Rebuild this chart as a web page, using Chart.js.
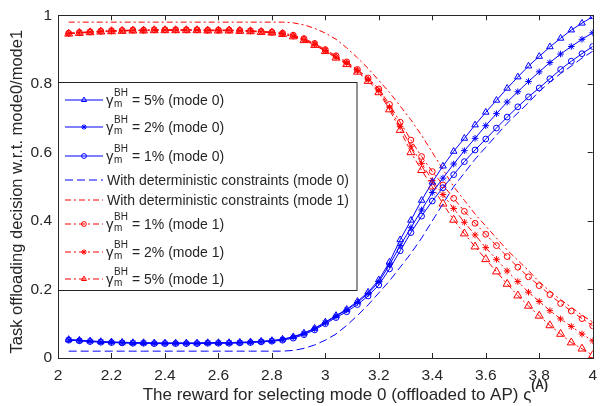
<!DOCTYPE html>
<html>
<head>
<meta charset="utf-8">
<script src="https://cdn.jsdelivr.net/npm/chart.js@4.4.0/dist/chart.umd.min.js"></script>
<style>
html, body { margin: 0; padding: 0; background: #fff; }
#wrap { width: 605px; height: 406px; }
</style>
</head>
<body>
<div id="wrap"><canvas id="chart" width="605" height="406"></canvas></div>
<script>
// reward values on the x axis
const rewardX = [2.04,2.08,2.12,2.16,2.20,2.24,2.28,2.32,2.36,2.40,
                 2.44,2.48,2.52,2.56,2.60,2.64,2.68,2.72,2.76,2.80,
                 2.84,2.88,2.92,2.96,3.00,3.04,3.08,3.12,3.16,3.20,
                 3.24,3.28,3.32,3.36,3.40,3.44,3.48,3.52,3.56,3.60,
                 3.64,3.68,3.72,3.76,3.80,3.84,3.88,3.92,3.96,4.00];

// mode 0 (blue)
const mode0Gamma5 = [0.054,0.052,0.050,0.048,0.047,0.046,0.045,0.045,0.044,0.044,
                     0.044,0.044,0.044,0.045,0.045,0.045,0.046,0.047,0.049,0.051,
                     0.055,0.062,0.073,0.087,0.105,0.124,0.142,0.165,0.192,0.228,
                     0.280,0.345,0.402,0.460,0.513,0.560,0.603,0.641,0.680,0.717,
                     0.752,0.787,0.820,0.852,0.880,0.908,0.933,0.957,0.977,0.996];
const mode0Gamma2 = [0.053,0.051,0.049,0.047,0.046,0.045,0.044,0.044,0.043,0.043,
                     0.043,0.043,0.043,0.044,0.044,0.044,0.045,0.046,0.048,0.050,
                     0.054,0.061,0.071,0.085,0.103,0.122,0.140,0.162,0.188,0.222,
                     0.272,0.328,0.380,0.432,0.483,0.525,0.566,0.605,0.641,0.678,
                     0.713,0.747,0.777,0.807,0.835,0.862,0.887,0.909,0.930,0.949];
const mode0Gamma1 = [0.052,0.050,0.048,0.046,0.045,0.044,0.043,0.043,0.042,0.042,
                     0.042,0.042,0.042,0.043,0.043,0.043,0.044,0.045,0.047,0.049,
                     0.052,0.058,0.068,0.082,0.100,0.118,0.135,0.156,0.181,0.213,
                     0.260,0.313,0.366,0.414,0.458,0.497,0.535,0.573,0.607,0.639,
                     0.671,0.703,0.733,0.762,0.788,0.815,0.842,0.866,0.888,0.909];
const mode0Determ = [0.020,0.020,0.020,0.020,0.020,0.020,0.020,0.020,0.020,0.020,
                     0.020,0.020,0.020,0.020,0.020,0.020,0.020,0.020,0.020,0.020,
                     0.020,0.022,0.028,0.038,0.052,0.070,0.095,0.124,0.155,0.190,
                     0.225,0.265,0.305,0.350,0.400,0.450,0.500,0.540,0.580,0.615,
                     0.650,0.685,0.715,0.745,0.778,0.805,0.830,0.852,0.875,0.895];

// mode 1 (red)
const mode1Determ = [0.980,0.980,0.980,0.980,0.980,0.980,0.980,0.980,0.980,0.980,
                     0.980,0.980,0.980,0.980,0.980,0.980,0.980,0.980,0.980,0.980,
                     0.980,0.978,0.972,0.962,0.948,0.930,0.905,0.876,0.845,0.810,
                     0.775,0.735,0.695,0.650,0.600,0.550,0.500,0.460,0.420,0.385,
                     0.350,0.315,0.285,0.255,0.222,0.195,0.170,0.148,0.125,0.105];
const mode1Gamma1 = [0.948,0.950,0.952,0.954,0.955,0.956,0.957,0.957,0.958,0.958,
                     0.958,0.958,0.958,0.957,0.957,0.957,0.956,0.955,0.953,0.951,
                     0.948,0.942,0.932,0.918,0.900,0.882,0.864,0.842,0.817,0.785,
                     0.740,0.688,0.636,0.588,0.544,0.505,0.466,0.428,0.393,0.361,
                     0.328,0.296,0.265,0.237,0.211,0.185,0.159,0.137,0.115,0.094];
const mode1Gamma2 = [0.947,0.949,0.951,0.953,0.954,0.955,0.956,0.956,0.957,0.957,
                     0.957,0.957,0.957,0.956,0.956,0.956,0.955,0.954,0.952,0.950,
                     0.946,0.939,0.929,0.915,0.897,0.878,0.860,0.838,0.812,0.780,
                     0.732,0.675,0.618,0.568,0.518,0.477,0.436,0.396,0.359,0.322,
                     0.288,0.254,0.223,0.192,0.165,0.138,0.114,0.092,0.070,0.050];
const mode1Gamma5 = [0.946,0.948,0.950,0.952,0.953,0.954,0.955,0.955,0.956,0.956,
                     0.956,0.956,0.956,0.955,0.955,0.955,0.954,0.953,0.951,0.949,
                     0.945,0.938,0.927,0.913,0.895,0.876,0.857,0.835,0.808,0.775,
                     0.725,0.665,0.600,0.548,0.500,0.450,0.403,0.363,0.325,0.288,
                     0.252,0.216,0.182,0.152,0.123,0.095,0.070,0.045,0.027,0.008];

const xTickValues = [2, 2.2, 2.4, 2.6, 2.8, 3, 3.2, 3.4, 3.6, 3.8, 4];
const yTickValues = [0, 0.2, 0.4, 0.6, 0.8, 1];

// legend texts: gamma entries are drawn as γ_m^BH + rest
const legendLabels = [
    { gamma: true, text: '= 5% (mode 0)' },
    { gamma: true, text: '= 2% (mode 0)' },
    { gamma: true, text: '= 1% (mode 0)' },
    { gamma: false, text: 'With deterministic constraints (mode 0)' },
    { gamma: false, text: 'With deterministic constraints (mode 1)' },
    { gamma: true, text: '= 1% (mode 1)' },
    { gamma: true, text: '= 2% (mode 1)' },
    { gamma: true, text: '= 5% (mode 1)' }
];
const yTitle = 'Task offloading decision w.r.t. mode0/mode1';
const xTitle = 'The reward for selecting mode 0 (offloaded to AP) ';

const BLUE = '#0000ff';
const RED = '#ff0000';
const AXIS = '#262626';
const FONT = 'Arial, "Liberation Sans", Helvetica, sans-serif';
const DASH_DOT = [6, 3, 2, 3];
const DASHED = [8, 4];

// style per series, same order as the legend
const seriesStyle = [
    { color: BLUE, mark: 'triangle', r: 3.8, dash: [] },
    { color: BLUE, mark: 'star', r: 3.3, dash: [] },
    { color: BLUE, mark: 'circle', r: 2.9, dash: [] },
    { color: BLUE, mark: null, r: 0, dash: DASHED },
    { color: RED, mark: null, r: 0, dash: DASH_DOT },
    { color: RED, mark: 'circle', r: 2.9, dash: DASH_DOT },
    { color: RED, mark: 'star', r: 3.3, dash: DASH_DOT },
    { color: RED, mark: 'triangle', r: 4.6, dash: DASH_DOT }
];
const seriesValues = [mode0Gamma5, mode0Gamma2, mode0Gamma1, mode0Determ,
                      mode1Determ, mode1Gamma1, mode1Gamma2, mode1Gamma5];

const datasets = seriesValues.map((values, i) => {
    const st = seriesStyle[i];
    return {
        data: rewardX.map((x, k) => ({ x: x, y: values[k] })),
        borderColor: st.color,
        borderWidth: 1,
        borderDash: st.dash,
        pointStyle: st.mark || 'circle',
        pointRadius: st.mark ? st.r : 0,
        pointHoverRadius: st.mark ? st.r : 0,
        pointBorderColor: st.color,
        pointBackgroundColor: 'rgba(255,255,255,0)',
        pointBorderWidth: 1,
        fill: false,
        tension: 0
    };
});

function marker(ctx, style, r, x, y, color) {
    ctx.save();
    ctx.setLineDash([]);
    ctx.strokeStyle = color;
    ctx.fillStyle = 'rgba(255,255,255,0)';
    ctx.lineWidth = 1;
    Chart.helpers.drawPoint(ctx, { pointStyle: style, radius: r, borderWidth: 1, rotation: 0 }, x, y);
    ctx.restore();
}

// axes box, inner ticks, titles and the legend
const decorPlugin = {
    id: 'decor',
    afterDraw(chart) {
        const ctx = chart.ctx;
        const a = chart.chartArea;
        const xs = chart.scales.x, ys = chart.scales.y;
        ctx.save();
        ctx.strokeStyle = AXIS;
        ctx.lineWidth = 1;
        ctx.beginPath();
        xTickValues.forEach(v => {
            const px = Math.round(xs.getPixelForValue(v)) + 0.5;
            ctx.moveTo(px, a.bottom); ctx.lineTo(px, a.bottom - 5);
            ctx.moveTo(px, a.top); ctx.lineTo(px, a.top + 5);
        });
        yTickValues.forEach(v => {
            const py = Math.round(ys.getPixelForValue(v)) + 0.5;
            ctx.moveTo(a.left, py); ctx.lineTo(a.left + 5, py);
            ctx.moveTo(a.right, py); ctx.lineTo(a.right - 5, py);
        });
        ctx.stroke();
        ctx.strokeRect(Math.round(a.left) + 0.5, Math.round(a.top) + 0.5,
                       Math.round(a.right - a.left), Math.round(a.bottom - a.top));

        // y title
        ctx.fillStyle = AXIS;
        ctx.font = '16.5px ' + FONT;
        ctx.textAlign = 'center';
        ctx.textBaseline = 'middle';
        ctx.save();
        ctx.translate(17, (a.top + a.bottom) / 2 + 5);
        ctx.rotate(-Math.PI / 2);
        ctx.fillText(yTitle, 0, 0);
        ctx.restore();

        // x title with ς^(A)
        ctx.textAlign = 'left';
        ctx.textBaseline = 'alphabetic';
        ctx.font = '17px ' + FONT;
        const w1 = ctx.measureText(xTitle).width;
        const wSig = ctx.measureText('ς').width;
        ctx.font = 'bold 12px ' + FONT;
        const wSup = ctx.measureText('(A)').width;
        const total = w1 + wSig + wSup;
        const tx = 548 - total;
        const base = 400;
        ctx.font = '17px ' + FONT;
        ctx.fillText(xTitle, tx, base);
        ctx.fillText('ς', tx + w1, base);
        ctx.font = 'bold 12px ' + FONT;
        ctx.fillText('(A)', tx + w1 + wSig, base - 11);

        // legend
        const lx = Math.round(a.left) + 0.5, ly = 82.5, lw = 298.5, lh = 208;
        ctx.fillStyle = '#ffffff';
        ctx.fillRect(lx, ly, lw, lh);
        ctx.strokeStyle = AXIS;
        ctx.strokeRect(lx, ly, lw, lh);
        const rowsY = [100, 127, 156, 180, 200, 224, 252, 279];
        const legendMarkSize = { triangle: 3, star: 2.8, circle: 2.4 };
        seriesStyle.forEach((st, i) => {
            const y = rowsY[i];
            ctx.save();
            ctx.strokeStyle = st.color;
            ctx.lineWidth = 1;
            ctx.setLineDash(st.dash);
            ctx.beginPath();
            ctx.moveTo(65, y); ctx.lineTo(103, y);
            ctx.stroke();
            ctx.restore();
            if (st.mark) marker(ctx, st.mark, legendMarkSize[st.mark], 84, y, st.color);

            const item = legendLabels[i];
            ctx.fillStyle = AXIS;
            ctx.textAlign = 'left';
            ctx.textBaseline = 'middle';
            if (item.gamma) {
                ctx.font = '15px ' + FONT;
                ctx.fillText('γ', 106, y + 1);
                ctx.font = '10px ' + FONT;
                ctx.textBaseline = 'alphabetic';
                ctx.fillText('BH', 114, y - 4);
                ctx.fillText('m', 114, y + 7);
                ctx.textBaseline = 'middle';
                ctx.font = '14px ' + FONT;
                ctx.fillText(item.text, 132, y + 1);
            } else {
                ctx.font = '14px ' + FONT;
                ctx.fillText(item.text, 107, y + 1);
            }
        });
        ctx.restore();
    }
};

new Chart(document.getElementById('chart'), {
    type: 'line',
    data: { datasets: datasets },
    options: {
        responsive: false,
        animation: false,
        devicePixelRatio: 1,
        layout: { padding: { left: 0, top: 13, right: 10, bottom: 0 } },
        plugins: { legend: { display: false }, tooltip: { enabled: false } },
        scales: {
            x: {
                type: 'linear',
                min: 2, max: 4,
                grid: { display: false, drawTicks: false },
                border: { display: false },
                afterFit: s => { s.height = 48; },
                afterBuildTicks: s => { s.ticks = xTickValues.map(v => ({ value: v })); },
                ticks: {
                    color: AXIS, font: { size: 15.5, family: FONT }, padding: 8,
                    maxRotation: 0, autoSkip: false,
                    callback: v => String(Number(v.toFixed(1)))
                }
            },
            y: {
                type: 'linear',
                min: 0, max: 1,
                grid: { display: false, drawTicks: false },
                border: { display: false },
                afterFit: s => { s.width = 58; },
                afterBuildTicks: s => { s.ticks = yTickValues.map(v => ({ value: v })); },
                ticks: {
                    color: AXIS, font: { size: 15.5, family: FONT }, padding: 6,
                    autoSkip: false,
                    callback: v => String(Number(v.toFixed(1)))
                }
            }
        }
    },
    plugins: [decorPlugin]
});
</script>
</body>
</html>
